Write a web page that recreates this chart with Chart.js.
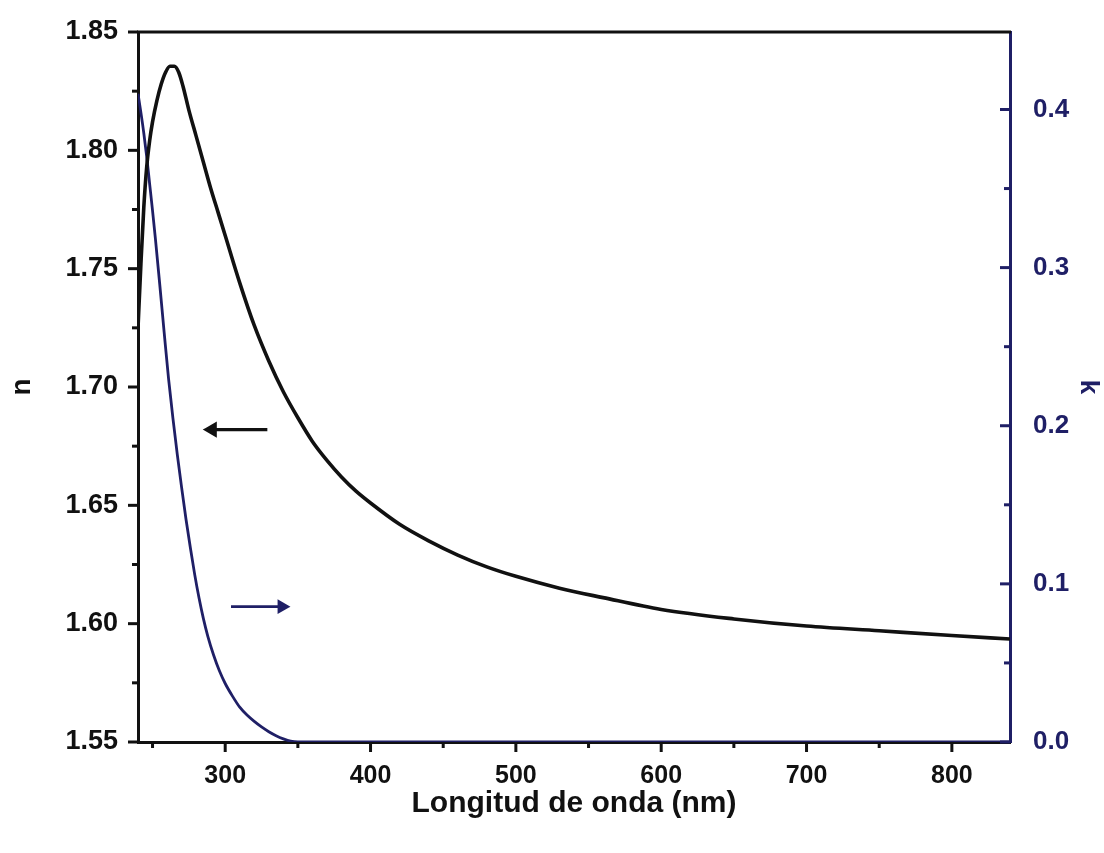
<!DOCTYPE html>
<html>
<head>
<meta charset="utf-8">
<script src="https://cdn.jsdelivr.net/npm/chart.js@4.4.0/dist/chart.umd.min.js"></script>
<style>
  html, body { margin: 0; padding: 0; background: #fff; }
</style>
</head>
<body>
<canvas id="myChart" width="1104" height="853"></canvas>
<script>
// indice de refraccion n (eje izquierdo)
const waveN = [240, 242, 244, 246, 248, 250, 253, 256, 259, 262, 265, 268, 271, 275, 280, 285, 290, 295, 300,
    310, 320, 330, 340, 350, 360, 370, 380, 390, 400, 420, 440, 460, 480, 500, 530, 560, 600, 650, 700, 750, 800, 840];
const nVals = [1.725, 1.752, 1.776, 1.793, 1.804, 1.812, 1.821, 1.828, 1.833, 1.8355, 1.8355, 1.833, 1.827, 1.817, 1.806,
    1.795, 1.784, 1.774, 1.764, 1.744, 1.726, 1.711, 1.698, 1.687, 1.677, 1.669, 1.662, 1.656, 1.651, 1.642, 1.635,
    1.629, 1.624, 1.620, 1.615, 1.611, 1.606, 1.602, 1.599, 1.597, 1.595, 1.5935];

// coeficiente de extincion k (eje derecho)
const waveK = [240, 242, 244, 246, 248, 250, 252, 255, 258, 261, 264, 267, 270, 273, 276, 279, 282, 285, 288, 292,
    296, 300, 305, 310, 315, 320, 325, 330, 335, 340, 345, 350, 400, 500, 600, 700, 840];
const kVals = [0.41, 0.398, 0.385, 0.37, 0.353, 0.336, 0.318, 0.289, 0.259, 0.23, 0.205, 0.182, 0.161, 0.141, 0.123,
    0.106, 0.091, 0.078, 0.067, 0.055, 0.045, 0.037, 0.029, 0.022, 0.017, 0.013, 0.0095, 0.0065, 0.004, 0.002,
    0.0005, 0, 0, 0, 0, 0, 0];

// flechas
const arrowNx = [329, 291];
const arrowNy = 1.682;
const arrowKx = [304, 339];
const arrowKy = 0.0856;

// etiquetas de los ejes
const xTicks = [300, 400, 500, 600, 700, 800];
const xMinor = [250, 350, 450, 550, 650, 750];
const nTicks = [1.55, 1.60, 1.65, 1.70, 1.75, 1.80, 1.85];
const nMinor = [1.575, 1.625, 1.675, 1.725, 1.775, 1.825];
const kTicks = [0.0, 0.1, 0.2, 0.3, 0.4];
const kMinor = [0.05, 0.15, 0.25, 0.35];

const negro = '#111111';
const azul = '#1f1f66';
const fuente = 'Arial, "Liberation Sans", sans-serif';

function toPoints(xs, ys) {
    return xs.map(function (x, i) {
        return { x: x, y: Array.isArray(ys) ? ys[i] : ys };
    });
}

// marcas de los ejes y borde superior
const marcasPlugin = {
    id: 'marcas',
    afterDraw(chart) {
        const ctx = chart.ctx;
        const a = chart.chartArea;
        const sx = chart.scales.x, sy = chart.scales.y, sk = chart.scales.y2;
        ctx.save();
        ctx.lineWidth = 3;
        ctx.strokeStyle = negro;
        ctx.beginPath();
        ctx.moveTo(a.left - 1, a.top);
        ctx.lineTo(a.right + 1, a.top);
        ctx.stroke();

        function linea(x1, y1, x2, y2, color, w) {
            ctx.strokeStyle = color;
            ctx.lineWidth = w;
            ctx.beginPath();
            ctx.moveTo(x1, y1);
            ctx.lineTo(x2, y2);
            ctx.stroke();
        }
        xTicks.forEach(function (v) {
            const px = sx.getPixelForValue(v);
            linea(px, a.bottom, px, a.bottom + 10, negro, 3);
        });
        xMinor.forEach(function (v) {
            const px = sx.getPixelForValue(v);
            linea(px, a.bottom, px, a.bottom + 6, negro, 3);
        });
        nTicks.forEach(function (v) {
            const py = sy.getPixelForValue(v);
            linea(a.left, py, a.left - 10, py, negro, 3);
        });
        nMinor.forEach(function (v) {
            const py = sy.getPixelForValue(v);
            linea(a.left, py, a.left - 6, py, negro, 3);
        });
        kTicks.forEach(function (v) {
            const py = sk.getPixelForValue(v);
            linea(a.right, py, a.right - 10, py, azul, 3);
        });
        kMinor.forEach(function (v) {
            const py = sk.getPixelForValue(v);
            linea(a.right, py, a.right - 6, py, azul, 3);
        });
        ctx.restore();
    },
};

const ctx = document.getElementById('myChart').getContext('2d');
const myChart = new Chart(ctx, {
    type: 'scatter',
    data: {
        datasets: [
            {
                label: 'n',
                data: toPoints(waveN, nVals),
                yAxisID: 'y',
                showLine: true,
                borderColor: negro,
                borderWidth: 3.6,
                pointRadius: 0,
                cubicInterpolationMode: 'monotone',
            },
            {
                label: 'k',
                data: toPoints(waveK, kVals),
                yAxisID: 'y2',
                showLine: true,
                borderColor: azul,
                borderWidth: 2.8,
                pointRadius: 0,
                cubicInterpolationMode: 'monotone',
            },
            {
                label: 'flecha n',
                data: toPoints(arrowNx, arrowNy),
                yAxisID: 'y',
                showLine: true,
                borderColor: negro,
                backgroundColor: negro,
                borderWidth: 3.4,
                pointStyle: 'triangle',
                pointRadius: [0, 6],
                rotation: [0, 270],
            },
            {
                label: 'flecha k',
                data: toPoints(arrowKx, arrowKy),
                yAxisID: 'y2',
                showLine: true,
                borderColor: azul,
                backgroundColor: azul,
                borderWidth: 2.6,
                pointStyle: 'triangle',
                pointRadius: [0, 6],
                rotation: [0, 90],
            },
        ],
    },
    options: {
        responsive: false,
        animation: false,
        devicePixelRatio: 1,
        layout: { padding: { top: 32 } },
        plugins: {
            legend: { display: false },
            tooltip: { enabled: false },
        },
        scales: {
            x: {
                type: 'linear',
                min: 240,
                max: 840,
                afterBuildTicks: function (scale) {
                    scale.ticks = xTicks.map(function (v) { return { value: v }; });
                },
                afterFit: function (scale) {
                    scale.height = 111;
                    scale.paddingLeft = 0;
                    scale.paddingRight = 0;
                },
                grid: { display: false },
                border: { color: negro, width: 3 },
                ticks: {
                    color: negro,
                    padding: 11,
                    maxRotation: 0,
                    autoSkip: false,
                    font: { family: fuente, size: 25, weight: 'bold' },
                },
                title: {
                    display: true,
                    text: 'Longitud de onda (nm)',
                    color: negro,
                    padding: { top: 4, bottom: 31 },
                    font: { family: fuente, size: 30, weight: 'bold' },
                },
            },
            y: {
                position: 'left',
                min: 1.55,
                max: 1.85,
                afterBuildTicks: function (scale) {
                    scale.ticks = nTicks.map(function (v) { return { value: v }; });
                },
                afterFit: function (scale) {
                    scale.width = 138;
                    scale.paddingTop = 0;
                    scale.paddingBottom = 0;
                },
                grid: { display: false },
                border: { color: negro, width: 3 },
                ticks: {
                    color: negro,
                    padding: 12,
                    font: { family: fuente, size: 27, weight: 'bold' },
                    callback: function (v) { return v.toFixed(2); },
                },
                title: {
                    display: true,
                    text: 'n',
                    color: negro,
                    padding: { top: 5 },
                    font: { family: fuente, size: 28, weight: 'bold' },
                },
            },
            y2: {
                position: 'right',
                min: 0,
                max: 0.449,
                afterBuildTicks: function (scale) {
                    scale.ticks = kTicks.map(function (v) { return { value: v }; });
                },
                afterFit: function (scale) {
                    scale.width = 94;
                    scale.paddingTop = 0;
                    scale.paddingBottom = 0;
                },
                grid: { display: false },
                border: { color: azul, width: 3 },
                ticks: {
                    color: azul,
                    padding: 15,
                    font: { family: fuente, size: 26, weight: 'bold' },
                    callback: function (v) { return v.toFixed(1); },
                },
                title: {
                    display: true,
                    text: 'k',
                    color: azul,
                    padding: { top: 0 },
                    font: { family: fuente, size: 26, weight: 'bold' },
                },
            },
        },
    },
    plugins: [marcasPlugin],
});
</script>
</body>
</html>
